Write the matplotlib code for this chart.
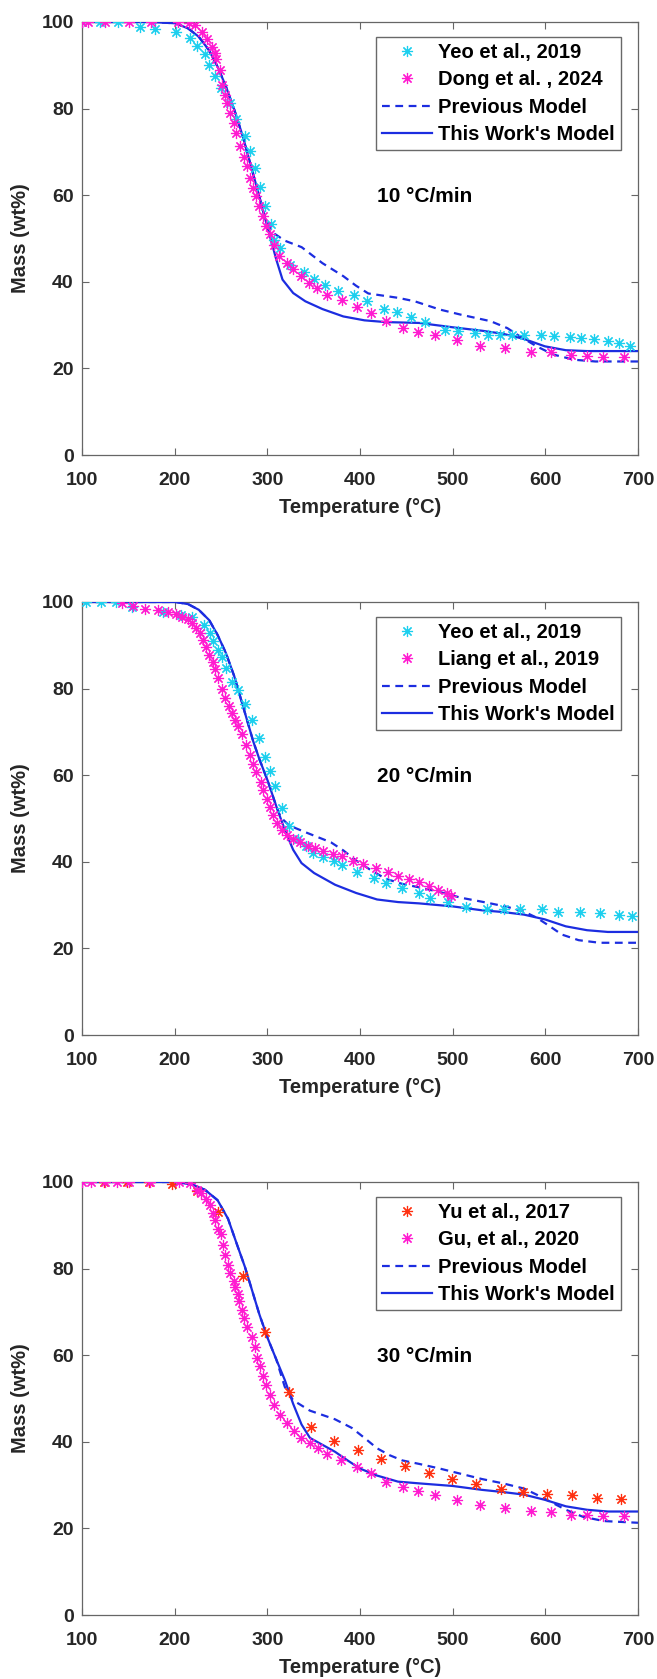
import matplotlib
matplotlib.use("Agg")
import matplotlib.pyplot as plt

plt.rcParams['font.family'] = ['Liberation Sans', 'DejaVu Sans']
plt.rcParams['font.weight'] = 'bold'

# ---------------- Panel 1: 10 °C/min ----------------
yeo10_T = [100, 119.5, 139, 162.5, 178.8, 201.4, 216.8, 223.6, 232.7, 237, 244, 250, 259.4, 265.8, 276.2,
           281.2, 287, 292.5, 297, 304.3, 307.4, 314.2, 324.2, 340, 350, 361.8, 376.3, 393.5, 407.5, 425.6,
           439.7, 454.6, 470.5, 491.8, 505.3, 523.9, 538.4, 550.6, 564.2, 576.9, 595, 609.5, 626.3, 638,
           652, 667.5, 679.3, 691.5]
yeo10_M = [100, 100, 100, 98.9, 98.3, 97.6, 96.4, 94.5, 92.5, 90.1, 87.5, 84.7, 81.4, 77.6, 73.7,
           70.1, 66.3, 61.9, 57.6, 53.3, 49.7, 47.8, 43.8, 42.2, 40.7, 39.2, 37.9, 36.9, 35.5, 33.8,
           33.0, 31.9, 30.7, 28.9, 28.6, 28.1, 27.7, 27.6, 27.7, 27.7, 27.6, 27.4, 27.2, 27.1,
           26.8, 26.3, 25.9, 25.1]

dong10_T = [100, 107, 125, 151, 174, 204, 215, 222, 229.5, 235.4, 240, 244, 245, 248.5, 251.3, 254.4,
            256.7, 260, 264.4, 266.7, 271, 274.4, 278, 281, 284, 287.5, 291, 295.2, 298.8, 302.4, 307,
            312.9, 321, 327.8, 335.9, 344.6, 354, 364, 380.8, 397, 411.6, 427.9, 446.5, 462.3, 481.3,
            504.4, 529.4, 556.5, 585, 606.3, 627.2, 644.9, 662.5, 685.1]
dong10_M = [100, 100, 100, 100, 100, 100, 99.8, 99.3, 97.6, 96.0, 94.3, 92.8, 91.4, 88.9, 85.5, 83.2,
            81.2, 78.9, 76.6, 74.3, 71.3, 68.9, 66.8, 64.0, 61.6, 59.7, 57.4, 55.3, 52.8, 51.0, 48.6,
            46.0, 44.4, 43.0, 41.3, 39.7, 38.5, 36.9, 35.7, 34.1, 32.7, 30.9, 29.4, 28.5, 27.6,
            26.5, 25.2, 24.6, 23.9, 23.7, 23.1, 22.8, 22.7, 22.7]

prev10_T = [100, 173.8, 201, 214.6, 226, 237, 246.3, 255.3, 264.4, 273.5, 282.5, 289.3, 296, 305,
            318.8, 337, 359.5, 382, 395.7, 409, 441, 459, 486, 509, 541, 559, 572.5, 590.6, 608.6,
            631, 654, 700]
prev10_M = [100, 100, 99.7, 98.5, 96.6, 93.5, 89.7, 85.1, 79.7, 73.6, 66.6, 61.3, 55.9, 51.5,
            49.5, 48.0, 44.3, 41.3, 39.1, 37.3, 36.3, 35.5, 33.6, 32.4, 30.9, 29.3, 27.4, 25.1, 23.2,
            22.0, 21.6, 21.6]

this10_T = [100, 173.8, 201, 214.6, 226, 237, 246.3, 255.3, 264.4, 273.5, 282.5, 289.3, 296, 302.9,
            309.7, 316.4, 327.9, 341, 359.5, 382, 404.8, 427.4, 463.7, 499.9, 531.6, 554.3, 577,
            599.5, 622.1, 645, 700]
this10_M = [100, 100, 99.7, 98.5, 96.6, 93.5, 89.7, 85.1, 79.7, 73.6, 66.6, 61.3, 55.9, 50.5,
            45.1, 40.5, 37.4, 35.5, 33.7, 32.0, 31.1, 30.7, 30.5, 29.5, 28.7, 28.0, 26.8,
            25.1, 24.2, 24.0, 24.0]

# ---------------- Panel 2: 20 °C/min ----------------
yeo20_T = [104.5, 120.8, 136.7, 153.9, 187.4, 206.9, 219.1, 231.8, 238.2, 241.8, 246.3, 250.8, 255.8,
           262.2, 268.1, 275.8, 283.5, 291.2, 297, 303, 308.4, 315.7, 323.4, 333.3, 341.5, 348.8, 359.6,
           371.8, 380.9, 397.2, 415.4, 428.5, 445.7, 463.8, 476, 495.5, 514.5, 537.2, 555.8, 572.5, 596,
           614, 637, 659.4, 679.7, 693.8]
yeo20_M = [100, 100, 100, 98.9, 97.8, 97.0, 96.6, 94.7, 92.8, 90.9, 88.9, 87.4, 84.7,
           81.6, 79.7, 76.5, 72.8, 68.6, 64.3, 60.9, 57.4, 52.4, 48.2, 45.3, 43.6, 42.0, 41.0,
           40.1, 39.2, 37.7, 36.3, 35.1, 33.9, 32.8, 31.7, 30.7, 29.6, 29.2, 29.0, 29.0, 29.0,
           28.5, 28.5, 28.2, 27.8, 27.4]

liang20_T = [143.5, 154.8, 168.4, 182, 193.3, 201, 208.3, 214.6, 219.2, 222.8, 227.4, 230.5, 233.7,
             237.3, 240.9, 243.7, 246.4, 250.9, 254.6, 258.2, 261.8, 264.6, 268.2, 272.8, 277.3, 280.9,
             284.5, 288.2, 292.7, 295.4, 299.9, 303, 306.3, 309.9, 315.3, 321.2, 328.1, 335.7, 343.9,
             351.6, 359.8, 371.2, 380.2, 392.9, 403.3, 417.3, 430, 441.3, 452.7, 464, 474, 484.4,
             493.5, 498]
liang20_M = [99.7, 99.1, 98.4, 98.2, 97.8, 97.2, 96.6, 96.0, 95.2, 93.9, 92.8, 91.2, 89.5,
             87.8, 86.2, 84.5, 82.4, 79.9, 77.8, 75.9, 74.3, 72.8, 71.3, 69.5, 67.0, 64.7,
             62.6, 60.7, 58.5, 56.6, 54.5, 52.6, 50.7, 49.0, 47.4, 46.3, 45.3, 44.5, 43.7,
             43.1, 42.6, 41.9, 41.3, 40.3, 39.5, 38.6, 37.6, 36.7, 36.0, 35.3, 34.5, 33.6,
             32.8, 32.1]

prev20_T = [100, 201, 214.6, 226, 237.3, 246.3, 255.3, 264.4, 271.2, 278, 284.8, 291.6, 300.6, 309.7,
            314.4, 323.4, 341.5, 368.6, 382.2, 395.8, 409.4, 427.4, 445.6, 463.7, 486.4, 509, 536,
            558.8, 577, 590.6, 604.2, 617.8, 635.9, 658.5, 700]
prev20_M = [100, 100, 99.5, 98.2, 95.8, 92.4, 88.2, 82.8, 77.8, 72.8, 67.8, 63.6, 58.6, 52.8,
            50.3, 48.4, 46.8, 44.5, 42.6, 40.3, 38.4, 36.1, 34.9, 34.1, 33.0, 31.7, 30.6,
            29.6, 28.5, 27.1, 25.2, 23.2, 21.9, 21.3, 21.3]

this20_T = [100, 201, 214.6, 226, 237.3, 246.3, 255.3, 264.4, 271.2, 278, 284.8, 291.6, 300.6, 309.7,
            318.8, 327.8, 336.9, 350.5, 373.1, 395.8, 418.4, 441.1, 463.7, 500, 531.6, 554.3, 577,
            599.5, 622, 645, 667.4, 700]
this20_M = [100, 100, 99.5, 98.2, 95.8, 92.4, 88.2, 82.8, 77.8, 72.8, 67.8, 63.6, 58.6, 52.8,
            47.4, 42.8, 39.7, 37.4, 34.7, 32.8, 31.3, 30.7, 30.4, 29.7, 28.8, 28.4, 27.8,
            26.7, 25.1, 24.2, 23.8, 23.8]

# ---------------- Panel 3: 30 °C/min ----------------
yu30_T = [124, 149, 172, 197.4, 223.6, 247.2, 273.5, 297, 323.3, 346.8, 371.8, 398, 422.9, 448.3,
          474.1, 499, 525.7, 552, 576, 602.3, 628.8, 656, 681.5]
yu30_M = [100, 100, 100, 99.5, 97.9, 93.0, 78.2, 65.4, 51.5, 43.4, 40.2, 38.1, 36.1, 34.4,
          32.8, 31.4, 30.2, 29.2, 28.5, 28.0, 27.6, 27.0, 26.8]

gu30_T = [100, 109.5, 125, 137.6, 150.3, 172.9, 204.6, 216.8, 223.6, 228.3, 233.6, 238.1, 241.8, 244,
          246.3, 249.5, 252.2, 254.5, 257.3, 259.8, 263.5, 265.3, 268.1, 269.9, 272.6, 274.4, 278,
          283.9, 287, 289.3, 291.6, 295.2, 298.8, 302.9, 307.4, 314.2, 321.4, 329.1, 335.9, 345.8,
          354.9, 364, 379.8, 397.1, 411.6, 427.9, 446.5, 462.3, 481.3, 504.4, 529.3, 556.5, 585,
          606.3, 627.2, 645, 662.5, 685.1]
gu30_M = [100, 100, 100, 100, 100, 100, 100, 99.8, 98.2, 97.4, 96.0, 94.6, 92.8, 91.3,
          89.1, 87.9, 85.5, 83.2, 80.8, 79.0, 77.2, 75.7, 74.1, 72.5, 70.4, 68.7, 66.6,
          64.2, 61.8, 59.4, 57.5, 55.3, 53.1, 50.8, 48.6, 46.2, 44.4, 42.6, 40.9, 39.7,
          38.5, 37.1, 35.7, 34.2, 32.8, 30.8, 29.6, 28.7, 27.7, 26.6, 25.5, 24.7, 24.1,
          23.8, 23.2, 23.0, 22.8, 22.8]

prev30_T = [100, 201, 219, 232.7, 246.3, 257.6, 266.7, 275.8, 282.5, 291.6, 300.6, 309.7, 318.8,
            327.8, 345.9, 373, 391.2, 404.8, 418.4, 432, 445.6, 463.7, 486.4, 509, 531.6, 554.3, 577,
            590.6, 608.6, 622.2, 640.3, 663, 700]
prev30_M = [100, 100, 99.4, 98.2, 95.8, 91.5, 85.9, 80.4, 75.7, 69.3, 63.8, 59.0, 52.7,
            49.6, 47.2, 45.2, 43.2, 40.9, 38.5, 36.9, 35.7, 34.9, 33.8, 32.6, 31.4, 30.4, 29.2,
            27.8, 25.8, 24.3, 22.7, 21.7, 21.3]

this30_T = [100, 201, 219, 232.7, 246.3, 257.6, 266.7, 275.8, 282.5, 291.6, 300.6, 309.7, 318.8,
            327.8, 336.9, 346, 359.5, 373, 386.6, 400.2, 418.4, 441, 463.7, 500, 531.6, 554.3, 577,
            599.5, 622.2, 645, 667.4, 700]
this30_M = [100, 100, 99.4, 98.2, 95.8, 91.5, 85.9, 80.4, 75.7, 69.3, 63.8, 59.0, 54.3,
            48.8, 44.0, 40.9, 39.3, 37.7, 35.7, 33.8, 32.2, 30.8, 30.4, 29.8, 28.9, 28.4, 27.8,
            26.6, 25.1, 24.3, 23.9, 23.9]

x_ticks = [100, 200, 300, 400, 500, 600, 700]
y_ticks = [0, 20, 40, 60, 80, 100]

CYAN = '#1ccfee'
MAGENTA = '#ff1ad0'
RED = '#ff3010'
BLUE = '#1c2de0'

panels = [
    dict(s1=(yeo10_T, yeo10_M, CYAN, 'Yeo et al., 2019'),
         s2=(dong10_T, dong10_M, MAGENTA, 'Dong et al. , 2024'),
         prev=(prev10_T, prev10_M), this=(this10_T, this10_M), rate='10 °C/min'),
    dict(s1=(yeo20_T, yeo20_M, CYAN, 'Yeo et al., 2019'),
         s2=(liang20_T, liang20_M, MAGENTA, 'Liang et al., 2019'),
         prev=(prev20_T, prev20_M), this=(this20_T, this20_M), rate='20 °C/min'),
    dict(s1=(yu30_T, yu30_M, RED, 'Yu et al., 2017'),
         s2=(gu30_T, gu30_M, MAGENTA, 'Gu, et al., 2020'),
         prev=(prev30_T, prev30_M), this=(this30_T, this30_M), rate='30 °C/min'),
]

W, H = 657, 1679
fig = plt.figure(figsize=(W / 100, H / 100), dpi=100)
left = 82 / W
width = 556 / W
height = 433 / H
bottoms = [1 - 455 / H, 1 - 1035 / H, 1 - 1615 / H]

star = (8, 2, 0)
AXCOL = '#666666'
TXT = '#262626'

for p, b in zip(panels, bottoms):
    ax = fig.add_axes([left, b, width, height])
    T1, M1, c1, l1 = p['s1']
    T2, M2, c2, l2 = p['s2']
    ax.plot(p['prev'][0], p['prev'][1], '--', color=BLUE, lw=1.6, label='Previous Model', zorder=2,
            dashes=(3.5, 2.5))
    ax.plot(p['this'][0], p['this'][1], '-', color=BLUE, lw=1.6, label="This Work's Model", zorder=3)
    ax.plot(T1, M1, linestyle='none', marker=star, ms=8, mew=0.85, color=c1, label=l1, zorder=4)
    ax.plot(T2, M2, linestyle='none', marker=star, ms=8, mew=0.85, color=c2, label=l2, zorder=5)

    ax.set_xlim(100, 700)
    ax.set_ylim(0, 100)
    ax.set_xticks(x_ticks)
    ax.set_yticks(y_ticks)
    ax.tick_params(direction='in', length=5, width=0.8, color=AXCOL, top=True, right=True,
                   labelsize=14, labelcolor=TXT)
    ax.tick_params(axis='x', pad=12.5)
    ax.tick_params(axis='y', pad=6)
    for lab in ax.get_xticklabels() + ax.get_yticklabels():
        lab.set_fontweight('bold')
    for sp in ax.spines.values():
        sp.set_color(AXCOL)
        sp.set_linewidth(0.9)
    ax.set_xlabel('Temperature (°C)', fontsize=14.5, fontweight='bold', color=TXT, labelpad=6.5)
    ax.set_ylabel('Mass (wt%)', fontsize=14.5, fontweight='bold', color=TXT, labelpad=8)
    ax.text(418, 59.7, p['rate'], fontsize=15, fontweight='bold', color='black', va='center', ha='left')

    h, l = ax.get_legend_handles_labels()
    order = [2, 3, 0, 1]
    leg = ax.legend([h[i] for i in order], [l[i] for i in order], loc='upper right',
                    bbox_to_anchor=(0.9694, 0.9654), fontsize=14.5, frameon=True, fancybox=False,
                    borderpad=0.3, labelspacing=0.42, handlelength=2.5, handletextpad=0.3,
                    numpoints=1, borderaxespad=0.0)
    leg.get_frame().set_edgecolor('#444444')
    leg.get_frame().set_linewidth(1.0)
    for t in leg.get_texts():
        t.set_fontweight('bold')
        t.set_color('black')

fig.savefig('out.png', dpi=100)
